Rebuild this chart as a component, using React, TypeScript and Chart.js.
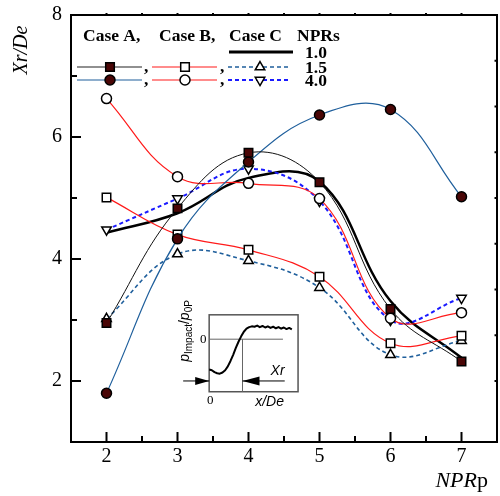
import React, { useEffect, useRef } from 'react';
import { Chart, registerables } from 'chart.js';

Chart.register(...registerables);

// ---- data ----
const nprValues = [2, 3, 4, 5, 6, 7];
const caseA_15 = [2.95, 4.83, 5.74, 5.26, 3.18, 2.32];
const caseA_40 = [1.8, 4.33, 5.59, 6.36, 6.45, 5.02];
const caseB_15 = [5.01, 4.4, 4.15, 3.71, 2.62, 2.74];
const caseB_40 = [6.63, 5.35, 5.24, 4.99, 3.03, 3.12];
const caseC_15 = [3.02, 4.08, 3.97, 3.53, 2.43, 2.66];
const caseC_40 = [4.48, 4.99, 5.48, 4.95, 3.0, 3.36];
const npr_10 = [4.43, 4.75, 5.33, 5.27, 3.31, 2.38];

const xTickValues = [2, 3, 4, 5, 6, 7];
const xMinorValues = [2.5, 3.5, 4.5, 5.5, 6.5];
const yTickValues = [2, 4, 6, 8];
const yMinorValues = [3, 5, 7];

const legendHeaders = ['Case A,', 'Case B,', 'Case C', 'NPRs'];
const legendNprs = ['1.0', '1.5', '4.0'];

const SERIF = '"Liberation Serif", "Times New Roman", serif';
const SANS = '"Liberation Sans", Arial, sans-serif';
const FILL = '#4a0606';
const STEEL = '#1f5f9c';
const RED = '#ff1a1a';
const BLUE = '#1a1aff';

const pts = (ys: number[]) => nprValues.map((x, i) => ({ x, y: ys[i] }));
const zeroPad = () => ({ left: 0, right: 0, top: 0, bottom: 0 });

function drawMarker(ctx: CanvasRenderingContext2D, style: string, x: number, y: number, fill: string) {
  ctx.save();
  ctx.beginPath();
  if (style === 'rect') {
    const s = 4.3;
    ctx.rect(x - s, y - s, 2 * s, 2 * s);
  } else if (style === 'circle') {
    ctx.arc(x, y, 5, 0, Math.PI * 2);
  } else {
    const r = 5.5;
    const dir = style === 'down' ? -1 : 1;
    for (let k = 0; k < 3; k++) {
      const a = (k * 2 * Math.PI) / 3;
      const px = x + Math.sin(a) * r;
      const py = y - dir * Math.cos(a) * r;
      if (k === 0) ctx.moveTo(px, py);
      else ctx.lineTo(px, py);
    }
    ctx.closePath();
  }
  ctx.fillStyle = fill;
  ctx.fill();
  ctx.lineWidth = 1.5;
  ctx.strokeStyle = '#000';
  ctx.stroke();
  ctx.restore();
}

function seg(ctx: CanvasRenderingContext2D, x0: number, y0: number, x1: number, y1: number) {
  ctx.beginPath();
  ctx.moveTo(x0, y0);
  ctx.lineTo(x1, y1);
  ctx.stroke();
}

const overlayPlugin = {
  id: 'overlay',
  afterDraw(chart: any) {
    const ctx: CanvasRenderingContext2D = chart.ctx;
    const ca = chart.chartArea;
    const xs = chart.scales.x;
    const ys = chart.scales.y;
    ctx.save();

    // frame
    ctx.strokeStyle = '#000';
    ctx.lineWidth = 2;
    ctx.strokeRect(ca.left, ca.top, ca.right - ca.left, ca.bottom - ca.top);

    // inward ticks
    ctx.lineWidth = 2;
    xTickValues.forEach((v) => {
      const p = xs.getPixelForValue(v);
      seg(ctx, p, ca.bottom, p, ca.bottom - 10);
      seg(ctx, p, ca.top, p, ca.top - 2);
    });
    xMinorValues.forEach((v) => {
      const p = xs.getPixelForValue(v);
      seg(ctx, p, ca.bottom, p, ca.bottom - 6);
      seg(ctx, p, ca.top, p, ca.top - 2);
    });
    yTickValues.forEach((v) => {
      const p = ys.getPixelForValue(v);
      seg(ctx, ca.left, p, ca.left + 10, p);
    });
    yMinorValues.forEach((v) => {
      const p = ys.getPixelForValue(v);
      seg(ctx, ca.left, p, ca.left + 6, p);
    });
    [7.25, 6.5, 5.75, 5, 4.25, 3.5, 2.75, 2].forEach((v) => {
      const p = ys.getPixelForValue(v);
      seg(ctx, ca.right, p, ca.right - 2.5, p);
    });

    // axis titles
    ctx.fillStyle = '#000';
    ctx.save();
    ctx.translate(22, 50);
    ctx.rotate(-Math.PI / 2);
    ctx.font = `italic 20px ${SERIF}`;
    ctx.textAlign = 'center';
    ctx.textBaseline = 'middle';
    ctx.fillText('Xr/De', 0, 0);
    ctx.restore();

    ctx.textBaseline = 'alphabetic';
    ctx.font = `22px ${SERIF}`;
    const wp = ctx.measureText('p').width;
    ctx.textAlign = 'right';
    ctx.fillText('p', 488, 487);
    ctx.font = `italic 22px ${SERIF}`;
    ctx.fillText('NPR', 488 - wp, 487);

    // legend
    const L = ca.left;
    const T = ca.top;
    ctx.font = `bold 17.5px ${SERIF}`;
    ctx.textAlign = 'left';
    ctx.textBaseline = 'middle';
    const hx = [12, 88, 158, 226];
    legendHeaders.forEach((h, i) => ctx.fillText(h, L + hx[i], T + 21));
    ctx.fillText(legendNprs[0], L + 234, T + 38);
    ctx.fillText(legendNprs[1], L + 234, T + 53);
    ctx.fillText(legendNprs[2], L + 234, T + 66);
    ctx.strokeStyle = '#000';
    ctx.lineWidth = 3;
    seg(ctx, L + 158, T + 37, L + 222, T + 37);

    const rows = [T + 52, T + 65];
    const comma = (x: number, y: number) => {
      ctx.textBaseline = 'alphabetic';
      ctx.fillText(',', x, y + 5);
      ctx.textBaseline = 'middle';
    };
    rows.forEach((ry, ri) => {
      ctx.setLineDash([]);
      ctx.lineWidth = 1.2;
      ctx.strokeStyle = ri === 0 ? '#222' : STEEL;
      seg(ctx, L + 6, ry, L + 71, ry);
      drawMarker(ctx, ri === 0 ? 'rect' : 'circle', L + 39, ry, FILL);
      comma(L + 73, ry);
      ctx.lineWidth = 1.2;
      ctx.strokeStyle = RED;
      seg(ctx, L + 81, ry, L + 146, ry);
      drawMarker(ctx, ri === 0 ? 'rect' : 'circle', L + 114, ry, '#fff');
      comma(L + 149, ry);
      ctx.lineWidth = ri === 0 ? 1.6 : 2;
      ctx.strokeStyle = ri === 0 ? STEEL : BLUE;
      ctx.setLineDash([4, 3]);
      seg(ctx, L + 157, ry, L + 218, ry);
      ctx.setLineDash([]);
      drawMarker(ctx, ri === 0 ? 'up' : 'down', L + 189, ry, '#fff');
    });

    // inset
    const iL = xs.getPixelForValue(3.446);
    const iR = xs.getPixelForValue(4.698);
    const iT = ys.getPixelForValue(3.085);
    const iB = ys.getPixelForValue(1.824);
    const W = iR - iL;
    const H = iB - iT;
    const fx = (f: number) => iL + f * W;
    const fy = (f: number) => iT + f * H;
    ctx.fillStyle = '#fff';
    ctx.fillRect(iL, iT, W, H);
    ctx.strokeStyle = '#555';
    ctx.lineWidth = 1.5;
    ctx.strokeRect(iL, iT, W, H);
    ctx.strokeStyle = '#666';
    ctx.lineWidth = 1;
    seg(ctx, iL, fy(0.317), fx(0.83), fy(0.317));
    seg(ctx, fx(0.375), fy(0.317), fx(0.375), iB);

    const curve = [
      [0, 0.71], [0.03, 0.72], [0.06, 0.745], [0.09, 0.76], [0.12, 0.765], [0.15, 0.75],
      [0.18, 0.72], [0.21, 0.67], [0.24, 0.6], [0.27, 0.52], [0.3, 0.43], [0.33, 0.35],
      [0.36, 0.28], [0.39, 0.22], [0.42, 0.18], [0.45, 0.16], [0.48, 0.15], [0.51, 0.155],
      [0.54, 0.14], [0.57, 0.16], [0.6, 0.145], [0.63, 0.165], [0.66, 0.15], [0.69, 0.17],
      [0.72, 0.155], [0.75, 0.175], [0.78, 0.16], [0.81, 0.18], [0.84, 0.165], [0.87, 0.185],
      [0.9, 0.17], [0.93, 0.19],
    ];
    ctx.strokeStyle = '#000';
    ctx.lineWidth = 2;
    ctx.lineJoin = 'round';
    ctx.beginPath();
    curve.forEach(([a, b], i) => (i === 0 ? ctx.moveTo(fx(a), fy(b)) : ctx.lineTo(fx(a), fy(b))));
    ctx.stroke();

    const ay = fy(0.86);
    ctx.lineWidth = 1;
    seg(ctx, iL - 26, ay, iL, ay);
    seg(ctx, fx(0.85), ay, fx(0.375), ay);
    ctx.fillStyle = '#000';
    ctx.beginPath();
    ctx.moveTo(iL, ay);
    ctx.lineTo(iL - 14, ay - 4);
    ctx.lineTo(iL - 14, ay + 4);
    ctx.closePath();
    ctx.fill();
    ctx.beginPath();
    ctx.moveTo(fx(0.375), ay);
    ctx.lineTo(fx(0.375) + 17, ay - 4.5);
    ctx.lineTo(fx(0.375) + 17, ay + 4.5);
    ctx.closePath();
    ctx.fill();

    ctx.font = `italic 14px ${SANS}`;
    ctx.textAlign = 'center';
    ctx.textBaseline = 'middle';
    ctx.fillText('Xr', fx(0.77), fy(0.73));
    ctx.fillText('x/De', fx(0.68), iB + 10);
    ctx.font = `13px ${SERIF}`;
    ctx.fillText('0', iL - 6, fy(0.317));
    ctx.fillText('0', iL + 1, iB + 9);

    ctx.save();
    ctx.translate(iL - 24, fy(0.21));
    ctx.rotate(-Math.PI / 2);
    ctx.textBaseline = 'alphabetic';
    ctx.textAlign = 'left';
    const partsY: [string, string, number][] = [
      ['p', `italic 14px ${SANS}`, 0],
      ['Impact', `10px ${SANS}`, 3],
      ['/', `14px ${SANS}`, 0],
      ['p', `italic 14px ${SANS}`, 0],
      ['0P', `10px ${SANS}`, 3],
    ];
    let total = 0;
    partsY.forEach(([t, f]) => {
      ctx.font = f;
      total += ctx.measureText(t).width;
    });
    let cx = -total / 2;
    partsY.forEach(([t, f, dy]) => {
      ctx.font = f;
      ctx.fillText(t, cx, 4 + dy);
      cx += ctx.measureText(t).width;
    });
    ctx.restore();

    ctx.restore();
  },
};

export default function App() {
  const ref = useRef<HTMLCanvasElement | null>(null);
  useEffect(() => {
    if (!ref.current) return;
    const base = { fill: false, pointBorderColor: '#000', pointBorderWidth: 1.5, tension: 0.4 };
    const chart = new Chart(ref.current, {
      type: 'line',
      data: {
        datasets: [
          { ...base, label: 'Case A 1.5', data: pts(caseA_15), borderColor: '#111', borderWidth: 1, pointStyle: 'rect', pointRadius: 6, pointBackgroundColor: FILL },
          { ...base, label: 'Case A 4.0', data: pts(caseA_40), borderColor: STEEL, borderWidth: 1.2, pointStyle: 'circle', pointRadius: 5, pointBackgroundColor: FILL },
          { ...base, label: 'Case B 1.5', data: pts(caseB_15), borderColor: RED, borderWidth: 1.2, pointStyle: 'rect', pointRadius: 6, pointBackgroundColor: '#fff' },
          { ...base, label: 'Case B 4.0', data: pts(caseB_40), borderColor: RED, borderWidth: 1.2, pointStyle: 'circle', pointRadius: 5, pointBackgroundColor: '#fff' },
          { ...base, label: 'Case C 1.5', data: pts(caseC_15), borderColor: STEEL, borderWidth: 1.6, borderDash: [4, 3], pointStyle: 'triangle', pointRadius: 5.5, pointBackgroundColor: '#fff' },
          { ...base, label: 'Case C 4.0', data: pts(caseC_40), borderColor: BLUE, borderWidth: 2, borderDash: [4, 3], pointStyle: 'triangle', pointRotation: 180, pointRadius: 5.5, pointBackgroundColor: '#fff' },
          { ...base, label: 'NPRs 1.0', data: pts(npr_10), borderColor: '#000', borderWidth: 2.5, pointRadius: 0 },
        ],
      },
      options: {
        responsive: false,
        animation: false,
        devicePixelRatio: 1,
        layout: { autoPadding: false, padding: { top: 15, right: 3, left: 0, bottom: 0 } },
        plugins: { legend: { display: false }, tooltip: { enabled: false } },
        scales: {
          x: {
            type: 'linear',
            min: 1.5,
            max: 7.5,
            afterBuildTicks: (s: any) => {
              s.ticks = xTickValues.map((v) => ({ value: v }));
            },
            afterFit: (s: any) => {
              s.height = 54;
              s.paddingLeft = 0;
              s.paddingRight = 0;
              s.getPadding = zeroPad;
            },
            grid: { display: false, drawTicks: false },
            border: { display: false },
            ticks: { font: { family: SERIF, size: 20 }, color: '#000', padding: 3, maxRotation: 0, autoSkip: false, callback: (v: any) => String(v) },
          },
          y: {
            type: 'linear',
            min: 1,
            max: 8,
            afterBuildTicks: (s: any) => {
              s.ticks = yTickValues.map((v) => ({ value: v }));
            },
            afterFit: (s: any) => {
              s.width = 71;
              s.paddingTop = 0;
              s.paddingBottom = 0;
              s.getPadding = zeroPad;
            },
            grid: { display: false, drawTicks: false },
            border: { display: false },
            ticks: { font: { family: SERIF, size: 20 }, color: '#000', padding: 9, autoSkip: false, callback: (v: any) => String(v) },
          },
        },
      },
      plugins: [overlayPlugin],
    } as any);
    return () => chart.destroy();
  }, []);
  return (
    <div style={{ position: 'fixed', left: 0, top: 0, width: 500, height: 496, background: '#fff', overflow: 'hidden' }}>
      <canvas ref={ref} width={500} height={496} style={{ width: 500, height: 496, display: 'block' }} />
    </div>
  );
}
